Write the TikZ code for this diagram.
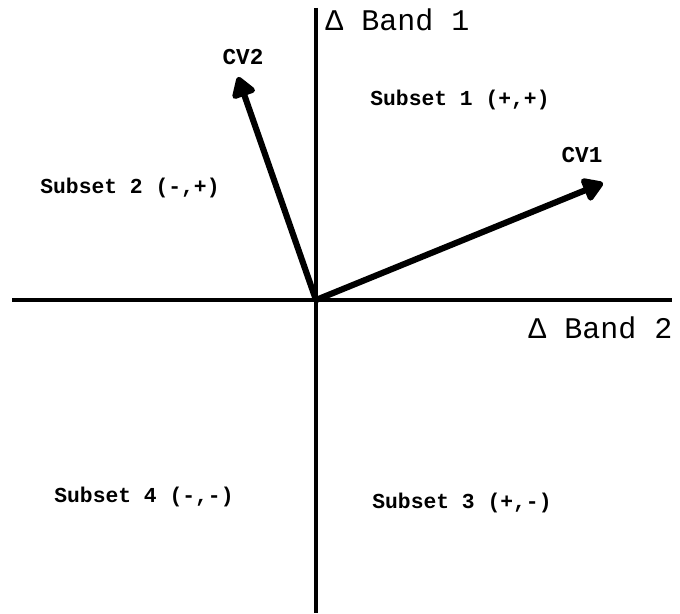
\documentclass[tikz,border=0pt]{standalone}
\usepackage{fontspec}
\setmainfont{Liberation Mono}
\usetikzlibrary{arrows.meta}

\begin{document}
\begin{tikzpicture}[
  x=0.75pt, y=-0.75pt,
  axis/.style={line width=3.6pt},
  cv/.style={line width=4.6pt, -{Triangle[length=17pt, width=20pt, round]}},
  subset/.style={font=\fontsize{16}{18}\selectfont\bfseries},
  band/.style={font=\fontsize{22.5}{26}\selectfont, anchor=west, inner sep=0pt},
  cvlabel/.style={font=\fontsize{17}{19}\selectfont\bfseries}
]
\useasboundingbox (0,0) rectangle (680,613);
% axes
\coordinate (origin) at (316,300);
\coordinate (xleft) at (12,300);
\coordinate (xright) at (672,300);
\coordinate (ytop) at (316,8);
\coordinate (ybottom) at (316,613);
\draw[axis] (xleft) -- (xright);
\draw[axis] (ytop) -- (ybottom);
\node[band] (band1) at (325,20) {Δ Band 1};
\node[band] (band2) at (528,328) {Δ Band 2};

% canonical vectors
\coordinate (cv1tip) at (603,183);
\coordinate (cv2tip) at (238,77);
\draw[cv] (origin) -- (cv1tip);
\draw[cv] (origin) -- (cv2tip);
\node[cvlabel] (cv1) at (582,155) {CV1};
\node[cvlabel] (cv2) at (243,57) {CV2};

% quadrants
\node[subset] (sub1) at (460,100) {Subset 1 (+,+)};
\node[subset] (sub2) at (130,188) {Subset 2 (-,+)};
\node[subset] (sub3) at (462,503) {Subset 3 (+,-)};
\node[subset] (sub4) at (144,497) {Subset 4 (-,-)};
\end{tikzpicture}
\end{document}
